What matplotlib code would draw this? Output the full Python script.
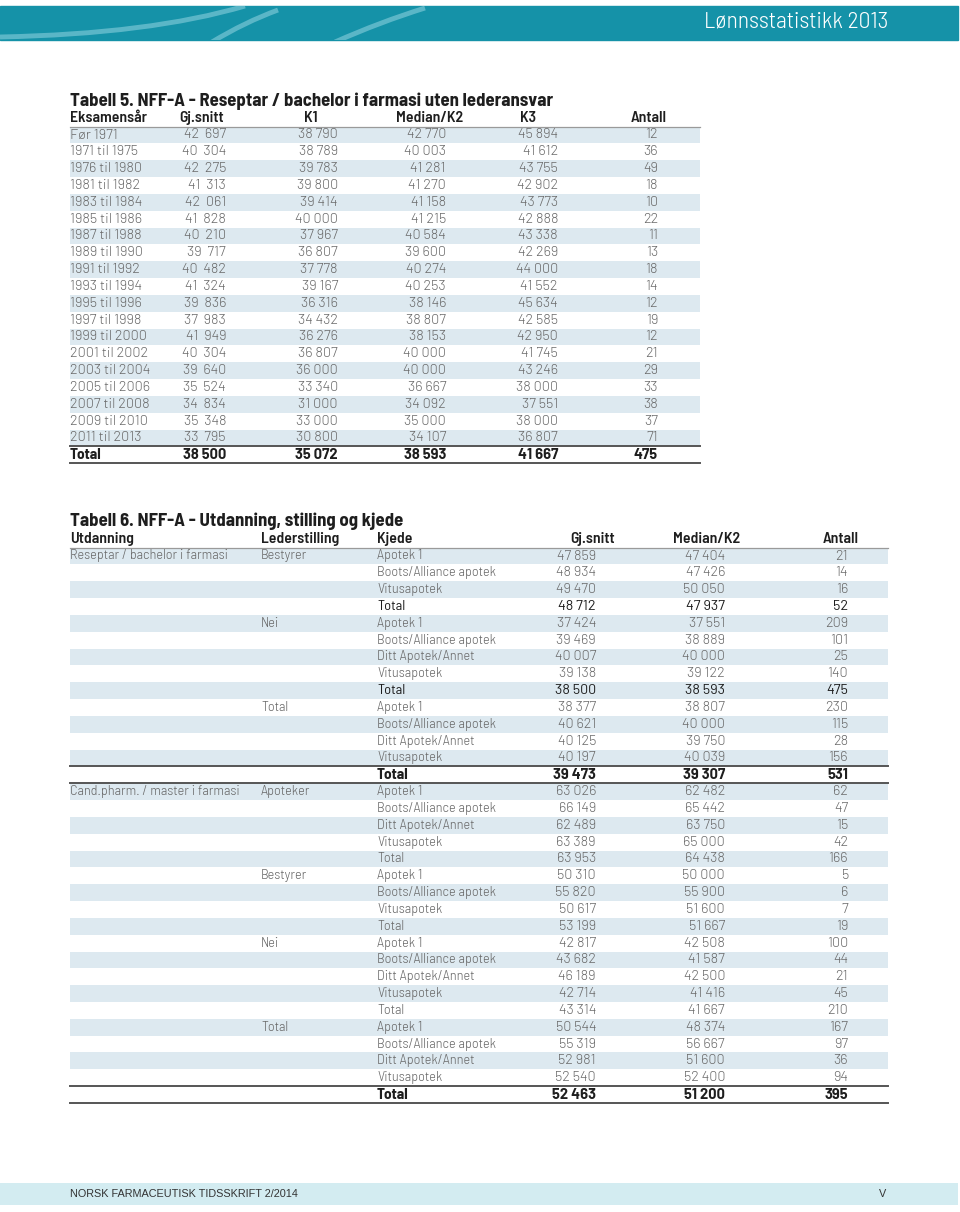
import matplotlib
matplotlib.use("Agg")
import matplotlib.pyplot as plt
from matplotlib.patches import Rectangle, PathPatch
from matplotlib.path import Path

# Tabell 5 data
years = ["Før 1971", "1971 til 1975", "1976 til 1980", "1981 til 1982", "1983 til 1984",
         "1985 til 1986", "1987 til 1988", "1989 til 1990", "1991 til 1992", "1993 til 1994",
         "1995 til 1996", "1997 til 1998", "1999 til 2000", "2001 til 2002", "2003 til 2004",
         "2005 til 2006", "2007 til 2008", "2009 til 2010", "2011 til 2013", "Total"]
gjsnitt5 = [42697, 40304, 42275, 41313, 42061, 41828, 40210, 39717, 40482, 41324,
            39836, 37983, 41949, 40304, 39640, 35524, 34834, 35348, 33795, 38500]
k1_5 = [38790, 38789, 39783, 39800, 39414, 40000, 37967, 36807, 37778, 39167,
        36316, 34432, 36276, 36807, 36000, 33340, 31000, 33000, 30800, 35072]
median5 = [42770, 40003, 41281, 41270, 41158, 41215, 40584, 39600, 40274, 40253,
           38146, 38807, 38153, 40000, 40000, 36667, 34092, 35000, 34107, 38593]
k3_5 = [45894, 41612, 43755, 42902, 43773, 42888, 43338, 42269, 44000, 41552,
        45634, 42585, 42950, 41745, 43246, 38000, 37551, 38000, 36807, 41667]
antall5 = [12, 36, 49, 18, 10, 22, 11, 13, 18, 14, 12, 19, 12, 21, 29, 33, 38, 37, 71, 475]

# Tabell 6 data
utdanning = ["Reseptar / bachelor i farmasi"] + [""] * 13 + ["Cand.pharm. / master i farmasi"] + [""] * 18
lederstilling = ["Bestyrer", "", "", "", "Nei", "", "", "", "", "Total", "", "", "", "",
                 "Apoteker", "", "", "", "", "Bestyrer", "", "", "", "Nei", "", "", "", "",
                 "Total", "", "", "", ""]
kjede = ["Apotek 1", "Boots/Alliance apotek", "Vitusapotek", "Total",
         "Apotek 1", "Boots/Alliance apotek", "Ditt Apotek/Annet", "Vitusapotek", "Total",
         "Apotek 1", "Boots/Alliance apotek", "Ditt Apotek/Annet", "Vitusapotek", "Total",
         "Apotek 1", "Boots/Alliance apotek", "Ditt Apotek/Annet", "Vitusapotek", "Total",
         "Apotek 1", "Boots/Alliance apotek", "Vitusapotek", "Total",
         "Apotek 1", "Boots/Alliance apotek", "Ditt Apotek/Annet", "Vitusapotek", "Total",
         "Apotek 1", "Boots/Alliance apotek", "Ditt Apotek/Annet", "Vitusapotek", "Total"]
gjsnitt6 = [47859, 48934, 49470, 48712, 37424, 39469, 40007, 39138, 38500,
            38377, 40621, 40125, 40197, 39473,
            63026, 66149, 62489, 63389, 63953, 50310, 55820, 50617, 53199,
            42817, 43682, 46189, 42714, 43314, 50544, 55319, 52981, 52540, 52463]
median6 = [47404, 47426, 50050, 47937, 37551, 38889, 40000, 39122, 38593,
           38807, 40000, 39750, 40039, 39307,
           62482, 65442, 63750, 65000, 64438, 50000, 55900, 51600, 51667,
           42508, 41587, 42500, 41416, 41667, 48374, 56667, 51600, 52400, 51200]
antall6 = [21, 14, 16, 52, 209, 101, 25, 140, 475, 230, 115, 28, 156, 531,
           62, 47, 15, 42, 166, 5, 6, 7, 19, 100, 44, 21, 45, 210, 167, 97, 36, 94, 395]
style6 = ["l", "l", "l", "m", "l", "l", "l", "l", "m", "l", "l", "l", "l", "b",
          "l", "l", "l", "l", "l", "l", "l", "l", "l", "l", "l", "l", "l", "l",
          "l", "l", "l", "l", "b"]

FONT = ["Barlow Semi Condensed", "DejaVu Sans"]   # letters
NUMF = ["Barlow", "DejaVu Sans"]                  # digits (wider figures)
LIGHT = "#6a6a6a"
DARK = "#1e1e1e"
STRIPE = "#dde9f0"
TEAL = "#1592a8"
FS = 10.3
WT = {"l": 300, "m": 400, "b": 700}


def fmt(v, sep="\u2009"):
    s = f"{v:,}"
    return s.replace(",", sep)


fig = plt.figure(figsize=(9.6, 12.12), dpi=100)
ax = fig.add_axes([0, 0, 1, 1])
ax.set_xlim(0, 960)
ax.set_ylim(1212, 0)
ax.axis("off")

# banner
ax.add_patch(Rectangle((0, 6), 958, 34, color=TEAL, zorder=1))
banner = Rectangle((0, 6), 958, 34, transform=ax.transData)
for pts in [[(0, 37), (150, 34), (245, 6)], [(212, 42), (245, 22), (278, 10)],
            [(335, 42), (380, 22), (425, 8)]]:
    p = PathPatch(Path(pts, [Path.MOVETO, Path.CURVE3, Path.CURVE3]), fill=False,
                  edgecolor="#6cc0cf", lw=3.5, alpha=0.8, zorder=2)
    ax.add_patch(p)
    p.set_clip_path(banner)
ax.text(888, 22, "Lønnsstatistikk 2013", color="white", fontsize=17, ha="right",
        va="center", family=FONT, fontweight=300, zorder=3)

# ---------- Tabell 5 ----------
ax.text(70, 101, "Tabell 5. NFF-A - Reseptar / bachelor i farmasi uten lederansvar",
        fontsize=13.5, fontweight=700, family=FONT, color=DARK, va="center")
hy = 118
hk = dict(fontsize=11.3, fontweight=600, family=FONT, color=DARK, va="center")
ax.text(70, hy, "Eksamensår", **hk)
for cx, lab in zip([202, 311, 430, 528, 649], ["Gj.snitt", "K1", "Median/K2", "K3", "Antall"]):
    ax.text(cx, hy, lab, ha="center", **hk)
ax.plot([70, 700], [126.5, 126.5], color="#9a9a9a", lw=0.9)

y0, dy = 135, 16.83
for i, yr in enumerate(years):
    y = y0 + i * dy
    st = "b" if yr == "Total" else "l"
    if i % 2 == 0 and st != "b":
        ax.add_patch(Rectangle((70, y - dy / 2), 630, dy, color=STRIPE, lw=0, zorder=0))
    col = DARK if st == "b" else LIGHT
    nk = dict(fontsize=10.6 if st == "b" else FS, family=NUMF, va="center", color=col,
              fontweight=WT[st], ha="right")
    if st == "b":
        ax.text(70, y, yr, fontsize=11, family=FONT, va="center", color=col, fontweight=700)
    else:
        ax.text(70, y, yr, fontsize=FS, family=NUMF, va="center", color=col, fontweight=300)
    ax.text(226, y, fmt(gjsnitt5[i], " " if st == "b" else "  "), **nk)
    sep = " " if st == "b" else "\u2009"
    ax.text(338, y, fmt(k1_5[i], sep), **nk)
    ax.text(446, y, fmt(median5[i], sep), **nk)
    ax.text(558, y, fmt(k3_5[i], sep), **nk)
    ax.text(658, y, str(antall5[i]), **nk)
    if st == "b":
        ax.plot([70, 700], [y - dy / 2, y - dy / 2], color="#555555", lw=1.4)
        ax.plot([70, 700], [y + dy / 2, y + dy / 2], color="#555555", lw=1.4)

# ---------- Tabell 6 ----------
ax.text(70, 521, "Tabell 6. NFF-A - Utdanning, stilling og kjede",
        fontsize=13.5, fontweight=700, family=FONT, color=DARK, va="center")
hy = 539
ax.text(70, hy, "Utdanning", **hk)
ax.text(261, hy, "Lederstilling", **hk)
ax.text(377, hy, "Kjede", **hk)
ax.text(615, hy, "Gj.snitt", ha="right", **hk)
ax.text(707, hy, "Median/K2", ha="center", **hk)
ax.text(859, hy, "Antall", ha="right", **hk)
ax.plot([70, 888], [547.5, 547.5], color="#9a9a9a", lw=0.9)

y0 = 556
for i in range(len(kjede)):
    y = y0 + i * dy
    st = style6[i]
    if i % 2 == 0 and st != "b":
        ax.add_patch(Rectangle((70, y - dy / 2), 818, dy, color=STRIPE, lw=0, zorder=0))
    col = LIGHT if st == "l" else DARK
    kw = dict(fontsize=11 if st == "b" else FS, family=FONT, va="center", color=col,
              fontweight=WT[st])
    nk = dict(fontsize=10.6 if st == "b" else FS, family=NUMF, va="center", color=col,
              fontweight=WT[st], ha="right")
    lk = dict(fontsize=FS, family=FONT, va="center", color=LIGHT, fontweight=300)
    ax.text(70, y, utdanning[i], **lk)
    ax.text(261, y, lederstilling[i], **lk)
    sep = " " if st == "b" else "\u2009"
    ax.text(377, y, kjede[i], **kw)
    ax.text(596, y, fmt(gjsnitt6[i], sep), **nk)
    ax.text(725, y, fmt(median6[i], sep), **nk)
    ax.text(848, y, str(antall6[i]), **nk)
    if st == "b":
        ax.plot([70, 888], [y - dy / 2, y - dy / 2], color="#555555", lw=1.4)
        ax.plot([70, 888], [y + dy / 2, y + dy / 2], color="#555555", lw=1.4)

# footer
ax.add_patch(Rectangle((0, 1183), 958, 22, color="#d3ecf1", lw=0, zorder=0))
ft = ["Liberation Sans", "DejaVu Sans"]
ax.text(70, 1194, "NORSK FARMACEUTISK TIDSSKRIFT 2/2014", fontsize=7.8,
        family=ft, color="#333333", va="center")
ax.text(886, 1194, "V", fontsize=7.8, family=ft, color="#333333", va="center", ha="right")

fig.savefig("out.png", dpi=100)
